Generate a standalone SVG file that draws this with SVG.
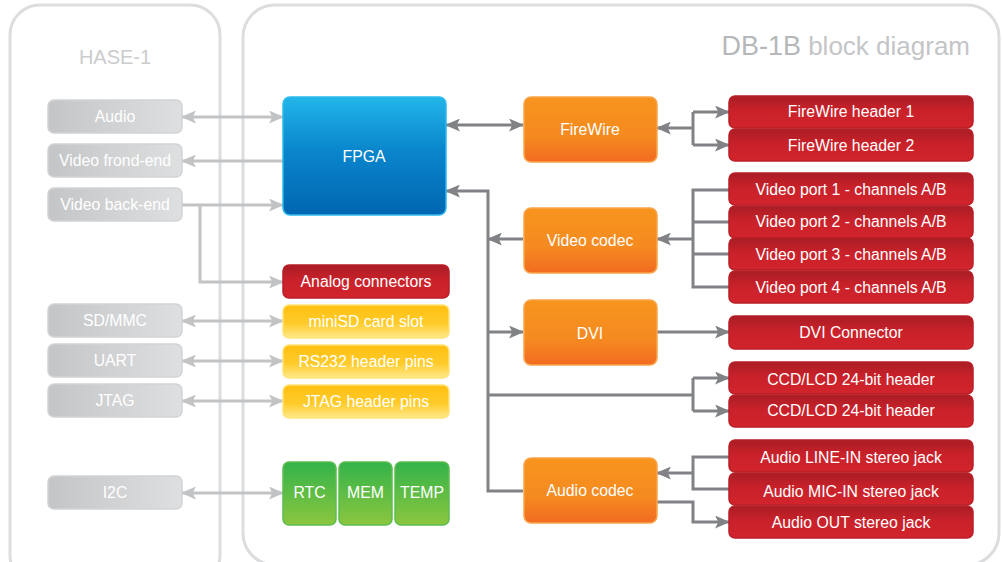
<svg xmlns="http://www.w3.org/2000/svg" width="1003" height="562" viewBox="0 0 1003 562">
  <defs>
    <linearGradient id="gGrey" x1="0" y1="0" x2="1" y2="0">
      <stop offset="0" stop-color="#c4c5c7"/>
      <stop offset="1" stop-color="#dedfe0"/>
    </linearGradient>
    <linearGradient id="gBlue" x1="0" y1="0" x2="0" y2="1">
      <stop offset="0" stop-color="#22b6ea"/>
      <stop offset="0.45" stop-color="#0a86cc"/>
      <stop offset="1" stop-color="#0066b2"/>
    </linearGradient>
    <linearGradient id="gRed" x1="0" y1="0" x2="0" y2="1">
      <stop offset="0" stop-color="#a91d24"/>
      <stop offset="0.45" stop-color="#c9212a"/>
      <stop offset="1" stop-color="#d2242c"/>
    </linearGradient>
    <linearGradient id="gOrange" x1="0" y1="0" x2="0" y2="1">
      <stop offset="0" stop-color="#f7941e"/>
      <stop offset="0.6" stop-color="#f58a20"/>
      <stop offset="1" stop-color="#f26b21"/>
    </linearGradient>
    <linearGradient id="gYellow" x1="0" y1="0" x2="0" y2="1">
      <stop offset="0" stop-color="#ffbf0f"/>
      <stop offset="0.55" stop-color="#ffcb2a"/>
      <stop offset="1" stop-color="#ffe98a"/>
    </linearGradient>
    <linearGradient id="gGreen" x1="0" y1="0" x2="0" y2="1">
      <stop offset="0" stop-color="#33b34a"/>
      <stop offset="1" stop-color="#8cc63f"/>
    </linearGradient>
    <marker id="aDark" viewBox="0 0 14 12" refX="13" refY="6" markerWidth="15" markerHeight="13" markerUnits="userSpaceOnUse" orient="auto-start-reverse">
      <path d="M0,0 L14,6 L0,12 L3,6 Z" fill="#808285"/>
    </marker>
    <marker id="aLight" viewBox="0 0 14 12" refX="13" refY="6" markerWidth="15" markerHeight="13" markerUnits="userSpaceOnUse" orient="auto-start-reverse">
      <path d="M0,0 L14,6 L0,12 L3,6 Z" fill="#c2c3c5"/>
    </marker>
  </defs>
  <style>
    text { font-family: "Liberation Sans", Arial, sans-serif; font-size: 15.8px; fill: #ffffff; text-anchor: middle; dominant-baseline: central; }
    .panel { fill: none; stroke: #dcdddf; stroke-width: 3; }
    .title { fill: #cbcccd; font-size: 20px; }
    .grey rect { fill: url(#gGrey); stroke: #d2d3d5; stroke-width: 1.5; }
    .blue rect { fill: url(#gBlue); stroke: #2cb9ec; stroke-width: 1.5; }
    .red rect { fill: url(#gRed); stroke: #b81f27; stroke-width: 1.5; }
    .orange rect { fill: url(#gOrange); stroke: #f9a54b; stroke-width: 1.5; }
    .yellow rect { fill: url(#gYellow); stroke: #ffe37a; stroke-width: 1.5; }
    .green rect { fill: url(#gGreen); stroke: #5cbd4f; stroke-width: 1.5; }
    .dk { fill: none; stroke: #808285; stroke-width: 3; }
    .lt { fill: none; stroke: #c2c3c5; stroke-width: 3; }
  </style>

  <rect width="1003" height="562" fill="#ffffff"/>

  <!-- board outlines -->
  <g id="panel-hase">
    <rect class="panel" x="10" y="5" width="210" height="580" rx="30"/>
    <text class="title" x="115" y="57">HASE-1</text>
  </g>
  <g id="panel-db1b">
    <rect class="panel" x="243" y="5" width="756" height="560" rx="32"/>
    <text x="970" y="46" style="text-anchor:end;font-size:26px;fill:#c4c5c7"><tspan style="fill:#b6b7b9;font-size:27px">DB-1B</tspan> block diagram</text>
  </g>

  <!-- connectors -->
  <g id="connectors">
    <!-- host side (light) -->
    <path class="lt" d="M182,117 H283" marker-start="url(#aLight)" marker-end="url(#aLight)"/>
    <path class="lt" d="M283,161 H182" marker-end="url(#aLight)"/>
    <path class="lt" d="M182,205 H283" marker-end="url(#aLight)"/>
    <path class="lt" d="M200,205 V282 H283" marker-end="url(#aLight)"/>
    <path class="lt" d="M182,321 H283" marker-start="url(#aLight)" marker-end="url(#aLight)"/>
    <path class="lt" d="M182,361 H283" marker-start="url(#aLight)" marker-end="url(#aLight)"/>
    <path class="lt" d="M182,401 H283" marker-start="url(#aLight)" marker-end="url(#aLight)"/>
    <path class="lt" d="M182,493 H283" marker-start="url(#aLight)" marker-end="url(#aLight)"/>

    <!-- FPGA to FireWire -->
    <path class="dk" d="M446,125 H523" marker-start="url(#aDark)" marker-end="url(#aDark)"/>
    <!-- FireWire headers -->
    <path class="dk" d="M693,128 H657" marker-end="url(#aDark)"/>
    <path class="dk" d="M693,112 V145"/>
    <path class="dk" d="M693,112 H729" marker-end="url(#aDark)"/>
    <path class="dk" d="M693,145 H729" marker-end="url(#aDark)"/>

    <!-- shared bus back into FPGA -->
    <path class="dk" d="M523,491 H488 V191 H446" marker-end="url(#aDark)"/>
    <path class="dk" d="M523,239 H488" marker-end="url(#aDark)"/>
    <path class="dk" d="M488,332 H523" marker-end="url(#aDark)"/>

    <!-- video ports -->
    <path class="dk" d="M693,239 H657" marker-end="url(#aDark)"/>
    <path class="dk" d="M729,190 H693 V287 H729"/>
    <path class="dk" d="M693,222 H729"/>
    <path class="dk" d="M693,254 H729"/>

    <!-- DVI -->
    <path class="dk" d="M657,332 H729" marker-end="url(#aDark)"/>

    <!-- CCD/LCD headers -->
    <path class="dk" d="M488,395 H693"/>
    <path class="dk" d="M693,378 V411"/>
    <path class="dk" d="M693,378 H729" marker-end="url(#aDark)"/>
    <path class="dk" d="M693,411 H729" marker-end="url(#aDark)"/>

    <!-- audio jacks -->
    <path class="dk" d="M729,457 H693 V489 H729"/>
    <path class="dk" d="M693,473 H657" marker-end="url(#aDark)"/>
    <path class="dk" d="M657,502 H693 V522 H729" marker-end="url(#aDark)"/>
  </g>

  <!-- HASE-1 interfaces -->
  <g id="hase-audio" class="grey"><rect x="48" y="100" width="134" height="33" rx="6"/><text x="115" y="116">Audio</text></g>
  <g id="hase-video-front" class="grey"><rect x="48" y="144" width="134" height="33" rx="6"/><text x="115" y="160">Video frond-end</text></g>
  <g id="hase-video-back" class="grey"><rect x="48" y="188" width="134" height="33" rx="6"/><text x="115" y="204">Video back-end</text></g>
  <g id="hase-sdmmc" class="grey"><rect x="48" y="304" width="134" height="33" rx="6"/><text x="115" y="320">SD/MMC</text></g>
  <g id="hase-uart" class="grey"><rect x="48" y="344" width="134" height="33" rx="6"/><text x="115" y="360">UART</text></g>
  <g id="hase-jtag" class="grey"><rect x="48" y="384" width="134" height="33" rx="6"/><text x="115" y="400">JTAG</text></g>
  <g id="hase-i2c" class="grey"><rect x="48" y="476" width="134" height="33" rx="6"/><text x="115" y="492">I2C</text></g>

  <!-- DB-1B core -->
  <g id="fpga" class="blue"><rect x="283" y="97" width="163" height="118" rx="7"/><text x="364" y="156">FPGA</text></g>

  <g id="analog" class="red"><rect x="283" y="265" width="166" height="33" rx="6"/><text x="366" y="281">Analog connectors</text></g>
  <g id="minisd" class="yellow"><rect x="283" y="305" width="166" height="33" rx="6"/><text x="366" y="321">miniSD card slot</text></g>
  <g id="rs232" class="yellow"><rect x="283" y="345" width="166" height="33" rx="6"/><text x="366" y="361">RS232 header pins</text></g>
  <g id="jtag-pins" class="yellow"><rect x="283" y="385" width="166" height="33" rx="6"/><text x="366" y="401">JTAG header pins</text></g>

  <g id="rtc" class="green"><rect x="283" y="462" width="53" height="63" rx="6"/><text x="309.5" y="492">RTC</text></g>
  <g id="mem" class="green"><rect x="339" y="462" width="53" height="63" rx="6"/><text x="365.5" y="492">MEM</text></g>
  <g id="temp" class="green"><rect x="395" y="462" width="54" height="63" rx="6"/><text x="422" y="492">TEMP</text></g>

  <g id="firewire" class="orange"><rect x="524" y="97" width="133" height="65" rx="7"/><text x="590" y="129">FireWire</text></g>
  <g id="video-codec" class="orange"><rect x="524" y="208" width="133" height="65" rx="7"/><text x="590" y="240">Video codec</text></g>
  <g id="dvi" class="orange"><rect x="524" y="300" width="133" height="65" rx="7"/><text x="590" y="333">DVI</text></g>
  <g id="audio-codec" class="orange"><rect x="524" y="458" width="133" height="65" rx="7"/><text x="590" y="490">Audio codec</text></g>

  <!-- external connectors -->
  <g id="fw-header-1" class="red"><rect x="729" y="96" width="244" height="32" rx="6"/><text x="851" y="111">FireWire header 1</text></g>
  <g id="fw-header-2" class="red"><rect x="729" y="129" width="244" height="32" rx="6"/><text x="851" y="145">FireWire header 2</text></g>
  <g id="video-port-1" class="red"><rect x="729" y="173" width="244" height="32" rx="6"/><text x="851" y="189">Video port 1 - channels A/B</text></g>
  <g id="video-port-2" class="red"><rect x="729" y="206" width="244" height="32" rx="6"/><text x="851" y="221">Video port 2 - channels A/B</text></g>
  <g id="video-port-3" class="red"><rect x="729" y="238" width="244" height="32" rx="6"/><text x="851" y="254">Video port 3 - channels A/B</text></g>
  <g id="video-port-4" class="red"><rect x="729" y="271" width="244" height="32" rx="6"/><text x="851" y="287">Video port 4 - channels A/B</text></g>
  <g id="dvi-connector" class="red"><rect x="729" y="316" width="244" height="33" rx="6"/><text x="851" y="332">DVI Connector</text></g>
  <g id="ccd-lcd-1" class="red"><rect x="729" y="362" width="244" height="32" rx="6"/><text x="851" y="379">CCD/LCD 24-bit header</text></g>
  <g id="ccd-lcd-2" class="red"><rect x="729" y="395" width="244" height="32" rx="6"/><text x="851" y="410">CCD/LCD 24-bit header</text></g>
  <g id="audio-line-in" class="red"><rect x="729" y="440" width="244" height="32" rx="6"/><text x="851" y="457">Audio LINE-IN stereo jack</text></g>
  <g id="audio-mic-in" class="red"><rect x="729" y="473" width="244" height="32" rx="6"/><text x="851" y="491">Audio MIC-IN stereo jack</text></g>
  <g id="audio-out" class="red"><rect x="729" y="506" width="244" height="32" rx="6"/><text x="851" y="522">Audio OUT stereo jack</text></g>
</svg>
